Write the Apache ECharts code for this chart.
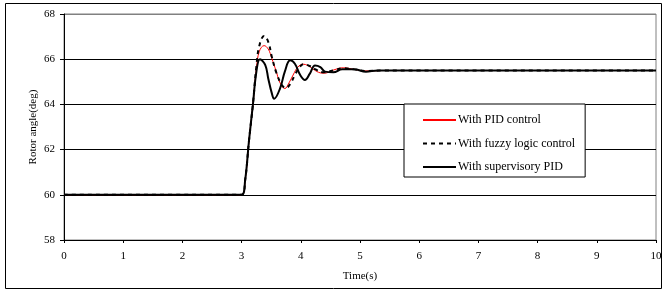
<!DOCTYPE html>
<html>
<head>
<meta charset="utf-8">
<script src="https://cdn.jsdelivr.net/npm/echarts@6/dist/echarts.min.js"></script>
<style>
  html, body { margin: 0; padding: 0; background: #fff; }
  #chart { width: 668px; height: 292px; }
</style>
</head>
<body>
<div id="chart"></div>
<script>
// values (time in s, rotor angle in deg)
const pidTime = [0, 3.0, 3.06, 3.125, 3.19, 3.25, 3.30, 3.38, 3.45, 3.51, 3.58, 3.65, 3.73, 3.80, 3.87, 3.95, 4.04, 4.12, 4.20, 4.30, 4.40, 4.55, 4.72, 4.9, 5.1, 5.4, 6, 10];
const pidAngle = [60, 60, 60.65, 62.4, 63.97, 65.6, 66.35, 66.6, 66.45, 66.04, 65.5, 64.95, 64.7, 64.95, 65.3, 65.65, 65.78, 65.72, 65.58, 65.42, 65.38, 65.52, 65.62, 65.55, 65.48, 65.5, 65.5, 65.5];

const fuzzyTime = [0, 3.0, 3.06, 3.125, 3.19, 3.25, 3.30, 3.38, 3.45, 3.51, 3.59, 3.68, 3.75, 3.82, 3.90, 3.98, 4.05, 4.15, 4.25, 4.38, 4.55, 4.72, 4.9, 5.1, 5.4, 6, 10];
const fuzzyAngle = [60, 60, 60.65, 62.4, 63.97, 65.7, 66.6, 67.03, 66.77, 66.11, 65.38, 64.86, 64.72, 64.9, 65.3, 65.65, 65.78, 65.7, 65.55, 65.42, 65.5, 65.6, 65.55, 65.48, 65.5, 65.5, 65.5];

const supTime = [0, 3.0, 3.06, 3.125, 3.19, 3.25, 3.31, 3.40, 3.45, 3.51, 3.55, 3.65, 3.73, 3.82, 3.90, 3.99, 4.07, 4.15, 4.24, 4.33, 4.41, 4.55, 4.7, 4.9, 5.1, 5.3, 5.6, 6, 10];
const supAngle = [60, 60, 60.65, 62.4, 63.97, 65.45, 66.0, 65.74, 65.15, 64.5, 64.25, 64.71, 65.45, 65.95, 65.8, 65.3, 65.08, 65.35, 65.72, 65.65, 65.45, 65.42, 65.55, 65.55, 65.45, 65.5, 65.5, 65.5, 65.5];

const seriesNames = ["With PID control", "With fuzzy logic control", "With supervisory PID"];

function pairs(xs, ys) {
  let out = [];
  for (let i = 0; i < xs.length; i++) {
    out.push([xs[i], ys[i]]);
  }
  return out;
}

const font = "Liberation Serif";
let myChart = echarts.init(document.getElementById("chart"));

let option = {
  animation: false,
  backgroundColor: "#fff",
  textStyle: { fontFamily: font },
  graphic: [
    {
      // outer frame round the whole picture
      type: "rect",
      shape: { x: 5.5, y: 3.5, width: 656, height: 285 },
      style: { fill: "none", stroke: "#000", lineWidth: 1 },
      silent: true
    }
  ],
  grid: {
    left: 64,
    right: 12,
    top: 14,
    bottom: 52,
    show: true,
    borderColor: "#808080",
    borderWidth: 1
  },
  legend: {
    orient: "vertical",
    left: 404,
    top: 104,
    padding: [10, 10, 4, 18],
    itemWidth: 33,
    itemHeight: 10,
    itemGap: 11.5,
    borderColor: "#000",
    borderWidth: 1,
    backgroundColor: "#fff",
    itemStyle: { opacity: 0 },
    textStyle: { fontFamily: font, fontSize: 12, color: "#000", padding: [0, 0, 0, -3] },
    data: seriesNames
  },
  xAxis: {
    type: "value",
    min: 0,
    max: 10,
    interval: 1,
    name: "Time(s)",
    nameLocation: "middle",
    nameGap: 31,
    nameTextStyle: { fontFamily: font, fontSize: 11, color: "#000" },
    axisLine: { show: true, lineStyle: { color: "#000", width: 1 } },
    axisTick: { show: true, length: 3, lineStyle: { color: "#000" } },
    axisLabel: { fontFamily: font, fontSize: 11, color: "#000", margin: 11 },
    splitLine: { show: false }
  },
  yAxis: {
    type: "value",
    min: 58,
    max: 68,
    interval: 2,
    name: "Rotor angle(deg)",
    nameLocation: "middle",
    nameGap: 25,
    nameMoveOverlap: false,
    nameTextStyle: { fontFamily: font, fontSize: 11, color: "#000" },
    axisLine: { show: true, lineStyle: { color: "#000", width: 1 } },
    axisTick: { show: true, length: 4, lineStyle: { color: "#000" } },
    axisLabel: { fontFamily: font, fontSize: 11, color: "#000", margin: 9 },
    splitLine: {
      show: true,
      lineStyle: {
        color: ["#000", "#000", "#000", "#000", "#000", "#808080"],
        width: 1
      }
    }
  },
  series: [
    {
      name: seriesNames[0],
      type: "line",
      data: pairs(pidTime, pidAngle),
      smooth: 0.4,
      symbol: "none",
      z: 1,
      lineStyle: { color: "#ff0000", width: 1 },
      itemStyle: { color: "#ff0000" }
    },
    {
      name: seriesNames[1],
      type: "line",
      data: pairs(fuzzyTime, fuzzyAngle),
      smooth: 0.4,
      symbol: "none",
      z: 2,
      lineStyle: { color: "#000", width: 2, type: [4, 4] },
      itemStyle: { color: "#000" }
    },
    {
      name: seriesNames[2],
      type: "line",
      data: pairs(supTime, supAngle),
      smooth: 0.4,
      symbol: "none",
      z: 2,
      lineStyle: { color: "#000", width: 2 },
      itemStyle: { color: "#000" }
    }
  ]
};

myChart.setOption(option);
</script>
</body>
</html>
